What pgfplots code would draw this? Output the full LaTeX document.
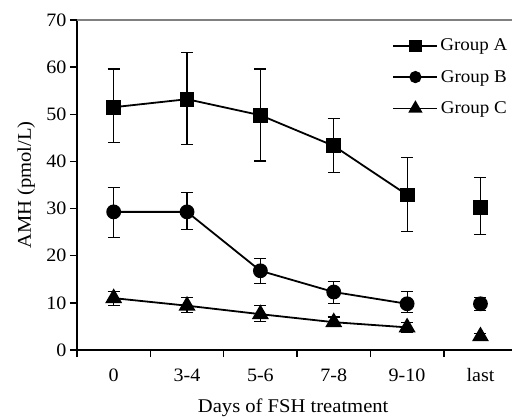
\documentclass[border=0pt]{standalone}
\usepackage{pgfplots}
\pgfplotsset{compat=1.18}
\usepackage{fontspec}
\setmainfont{Liberation Serif}[FakeStretch=1.06]
\begin{document}
\begin{tikzpicture}
\begin{axis}[
    scale only axis,
    width=435bp, height=330bp,
    xmin=-0.5, xmax=5.43, ymin=0, ymax=70,
    axis x line*=bottom, axis y line*=left,
    axis line style={line width=1.9bp, -},
    tick align=outside,
    major tick length=7bp,
    tick style={black, line width=1.5bp},
    xtick={-0.5,0.5,...,4.5}, xticklabels={},
    extra x ticks={0,1,2,3,4,5},
    extra x tick labels={0,3-4,5-6,7-8,9-10,last},
    extra x tick style={major tick length=0pt, xticklabel style={yshift=-15bp}},
    ytick={0,10,...,70},
    tick label style={font=\fontsize{19}{22}\selectfont},
    label style={font=\fontsize{19.5}{22}\selectfont},
    /pgf/number format/assume math mode=true,
    xlabel={Days of FSH treatment},
    ylabel={AMH (pmol/L)},
    xlabel style={at={(axis description cs:0.497,-0.176)}, anchor=center},
    ylabel style={at={(axis description cs:-0.117,0.5)}, anchor=center},
    clip=false,
    legend style={at={(axis description cs:0.718,0.955)}, anchor=north west,
        draw=none, fill=none, row sep=14bp, font=\fontsize{18}{21}\selectfont,
        /tikz/every even column/.append style={column sep=2bp}},
    legend image code/.code={\draw[mark repeat=2,mark phase=2,mark options={scale=0.8}] plot coordinates {(0bp,0bp)(22bp,0bp)(44bp,0bp)};},
    error bars/y dir=both, error bars/y explicit,
    error bars/error mark options={rotate=90, mark size=6bp, line width=1.1bp},
    error bars/error bar style={line width=1.1bp},
]
\draw[gray, line width=1.4bp] (rel axis cs:0,1) -- (rel axis cs:1,1);

\addplot[black, line width=1.8bp, mark=square*, mark size=6.5bp] coordinates {
    (0,51.5) += (0,8.1) -= (0,7.5)
    (1,53.2) += (0,9.9) -= (0,9.7)
    (2,49.8) += (0,9.8) -= (0,9.7)
    (3,43.3) += (0,5.8) -= (0,5.6)
    (4,32.9) += (0,7.9) -= (0,7.8)
};
\addlegendentry{Group A}
\addplot[black, line width=1.8bp, mark=*, mark size=6.5bp] coordinates {
    (0,29.3) += (0,5.2) -= (0,5.5)
    (1,29.3) += (0,4.1) -= (0,3.8)
    (2,16.8) += (0,2.6) -= (0,2.7)
    (3,12.3) += (0,2.3) -= (0,2.4)
    (4,9.8) += (0,2.6) -= (0,1.8)
};
\addlegendentry{Group B}
\addplot[black, line width=1.8bp, mark=triangle*, mark size=8bp] coordinates {
    (0,11.0) += (0,1.5) -= (0,1.5)
    (1,9.4) += (0,1.8) -= (0,1.5)
    (2,7.6) += (0,1.8) -= (0,1.5)
    (3,5.9) += (0,1.1) -= (0,1.0)
    (4,4.8) += (0,1.1) -= (0,1.0)
};
\addlegendentry{Group C}

\addplot[black, line width=1.8bp, only marks, mark=square*, mark size=6.5bp, forget plot] coordinates {
    (5,30.3) += (0,6.3) -= (0,5.8)
};
\addplot[black, line width=1.8bp, only marks, mark=*, mark size=6.5bp, forget plot] coordinates {
    (5,9.8) += (0,1.4) -= (0,1.5)
};
\addplot[black, line width=1.8bp, only marks, mark=triangle*, mark size=8bp, forget plot] coordinates {
    (5,2.9) += (0,0.6) -= (0,0.5)
};
\coordinate (bl) at (rel axis cs:0,0);
\end{axis}
\pgfresetboundingbox
\path (bl) ++(-77bp,-69bp) rectangle ++(512bp,419bp);
\end{tikzpicture}
\end{document}
